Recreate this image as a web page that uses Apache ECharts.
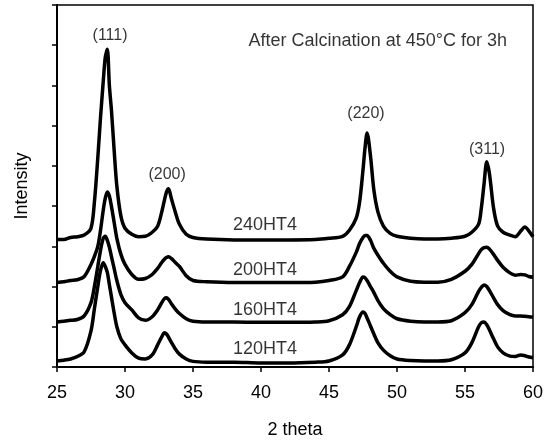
<!DOCTYPE html>
<html>
<head>
    <meta charset="utf-8">
    <title>XRD after calcination</title>
    <script src="https://cdn.jsdelivr.net/npm/echarts@6.0.0/dist/echarts.min.js"></script>
    <style>
        html, body { margin: 0; padding: 0; background: #fff; }
    </style>
</head>
<body>
    <div id="main" style="width: 550px;height:444px;"></div>

    <script type="text/javascript">

        // 2 theta sample positions (shared by all four patterns)
        var theta = [25, 25.5, 26, 26.5, 27, 27.5, 27.75, 28, 28.2, 28.4, 28.55, 28.7, 28.85, 29, 29.2, 29.4, 29.7, 30,
            30.5, 31, 31.5, 32, 32.4, 32.7, 32.9, 33.05, 33.2, 33.4, 33.7, 34, 34.5, 35, 36, 38, 40, 42, 44, 45,
            46, 46.5, 47, 47.25, 47.5, 47.65, 47.8, 48.05, 48.3, 48.6, 49, 49.5, 50, 51, 52, 53, 54, 55, 55.5, 56,
            56.2, 56.4, 56.6, 56.8, 57.1, 57.4, 57.8, 58.3, 58.7, 59.1, 59.4, 59.7, 60];

        // intensities (stacked, arbitrary units)
        var s240 = [3.17, 3.17, 3.22, 3.24, 3.28, 3.45, 4.1, 5.2, 6.2, 7.1, 7.7, 7.9, 7.0, 6.4, 5.4, 4.5, 3.75, 3.45,
            3.3, 3.24, 3.25, 3.35, 3.5, 3.85, 4.15, 4.35, 4.43, 4.2, 3.85, 3.55, 3.3, 3.22, 3.18, 3.16, 3.16, 3.16, 3.17, 3.2,
            3.25, 3.4, 3.7, 4.1, 4.9, 5.45, 5.82, 5.25, 4.4, 3.85, 3.5, 3.32, 3.25, 3.2, 3.18, 3.18, 3.2, 3.25, 3.35, 3.55,
            3.95, 4.55, 5.1, 4.8, 3.95, 3.5, 3.35, 3.28, 3.24, 3.38, 3.48, 3.38, 3.24];
        var s200 = [2.1, 2.12, 2.15, 2.17, 2.25, 2.55, 2.75, 3.0, 3.4, 3.9, 4.2, 4.35, 4.25, 4.0, 3.6, 3.2, 2.8, 2.55,
            2.3, 2.18, 2.2, 2.3, 2.45, 2.6, 2.68, 2.72, 2.74, 2.7, 2.6, 2.5, 2.27, 2.15, 2.12, 2.1, 2.1, 2.1, 2.11, 2.15,
            2.24, 2.5, 2.85, 3.07, 3.22, 3.27, 3.27, 3.15, 2.95, 2.78, 2.58, 2.38, 2.24, 2.13, 2.11, 2.11, 2.18, 2.38, 2.55, 2.82,
            2.92, 2.97, 2.98, 2.93, 2.8, 2.65, 2.48, 2.34, 2.28, 2.3, 2.29, 2.25, 2.23];
        var s160 = [1.12, 1.14, 1.16, 1.18, 1.27, 1.6, 2.0, 2.5, 2.9, 3.2, 3.25, 3.15, 2.98, 2.75, 2.45, 2.15, 1.8, 1.6,
            1.42, 1.22, 1.16, 1.25, 1.42, 1.6, 1.7, 1.72, 1.68, 1.58, 1.44, 1.33, 1.2, 1.14, 1.12, 1.12, 1.11, 1.11, 1.12, 1.15,
            1.3, 1.5, 1.9, 2.1, 2.24, 2.22, 2.15, 2.0, 1.85, 1.65, 1.45, 1.3, 1.2, 1.14, 1.12, 1.12, 1.15, 1.35, 1.55, 1.88,
            1.98, 2.04, 2.0, 1.9, 1.72, 1.55, 1.4, 1.3, 1.27, 1.27, 1.26, 1.25, 1.24];
        var s120 = [0.15, 0.17, 0.2, 0.26, 0.38, 0.9, 1.45, 2.0, 2.4, 2.59, 2.5, 2.35, 2.05, 1.75, 1.35, 1.0, 0.7, 0.55,
            0.35, 0.22, 0.2, 0.3, 0.55, 0.75, 0.85, 0.82, 0.74, 0.62, 0.45, 0.32, 0.2, 0.14, 0.12, 0.12, 0.1, 0.1, 0.12, 0.15,
            0.3, 0.55, 1.0, 1.25, 1.37, 1.33, 1.22, 1.02, 0.82, 0.6, 0.42, 0.28, 0.2, 0.16, 0.15, 0.15, 0.18, 0.35, 0.6, 1.0,
            1.1, 1.12, 1.05, 0.92, 0.7, 0.5, 0.35, 0.27, 0.26, 0.3, 0.28, 0.25, 0.23];

        var sampleNames = ['240HT4', '200HT4', '160HT4', '120HT4'];
        var sampleValues = [s240, s200, s160, s120];
        var sampleLabelPos = [[40.3, 3.53], [40.3, 2.41], [40.3, 1.42], [40.3, 0.45]];

        var hklNames = ['(111)', '(200)', '(220)', '(311)'];
        var hklPos = [[28.9, 8.23], [33.1, 4.78], [47.72, 6.29], [56.62, 5.4]];

        var xTicks = [25, 30, 35, 40, 45, 50, 55, 60];

        var font = 'Liberation Sans, Arial, sans-serif';

        function pairs(ys) {
            var out = [];
            for (var i = 0; i < theta.length; i++) {
                out.push([theta[i], ys[i]]);
            }
            return out;
        }

        var series = [];
        for (var k = 0; k < sampleNames.length; k++) {
            series.push({
                name: sampleNames[k],
                type: 'line',
                data: pairs(sampleValues[k]),
                showSymbol: false,
                smooth: 0.3,
                lineStyle: { color: '#000', width: 3.5 },
                silent: true
            });
        }

        // text labels placed in data coordinates
        var notes = [];
        for (var i = 0; i < sampleNames.length; i++) {
            notes.push({ name: sampleNames[i], value: sampleLabelPos[i], label: { fontSize: 18 } });
        }
        for (var j = 0; j < hklNames.length; j++) {
            notes.push({ name: hklNames[j], value: hklPos[j], label: { fontSize: 16 } });
        }
        notes.push({
            name: 'After Calcination at 450°C for 3h',
            value: [39.05, 8.1],
            label: { fontSize: 18, position: 'right', distance: 0 }
        });

        series.push({
            type: 'scatter',
            data: notes,
            symbolSize: 1,
            itemStyle: { color: 'transparent' },
            silent: true,
            label: {
                show: true,
                position: 'inside',
                color: '#000',
                fontFamily: font,
                formatter: '{b}'
            }
        });

        var myChart = echarts.init(document.getElementById('main'));

        var option = {
            animation: false,
            backgroundColor: '#fff',
            grid: {
                left: 57, right: 17, top: 5, bottom: 77,
                show: true, borderColor: '#000', borderWidth: 1.5,
                outerBoundsMode: 'none'
            },
            xAxis: {
                type: 'value',
                min: xTicks[0],
                max: xTicks[xTicks.length - 1],
                interval: 5,
                name: '2 theta',
                nameLocation: 'middle',
                nameGap: 54,
                nameTextStyle: { color: '#000', fontSize: 18, fontFamily: font },
                axisLine: { lineStyle: { color: '#000', width: 2 } },
                axisTick: { length: 5, lineStyle: { color: '#000', width: 1.5 } },
                axisLabel: { color: '#000', fontSize: 18, fontFamily: font, margin: 17 },
                splitLine: { show: false }
            },
            yAxis: {
                type: 'value',
                min: 0,
                max: 9,
                interval: 1,
                name: 'Intensity',
                nameLocation: 'middle',
                nameGap: 26,
                nameTextStyle: { color: '#000', fontSize: 18, fontFamily: font },
                axisLine: { show: true, lineStyle: { color: '#000', width: 2 } },
                axisTick: { show: true, length: 5, lineStyle: { color: '#000', width: 1.5 } },
                axisLabel: { show: false },
                splitLine: { show: false }
            },
            series: series
        };

        myChart.setOption(option);

    </script>

</body>
</html>
